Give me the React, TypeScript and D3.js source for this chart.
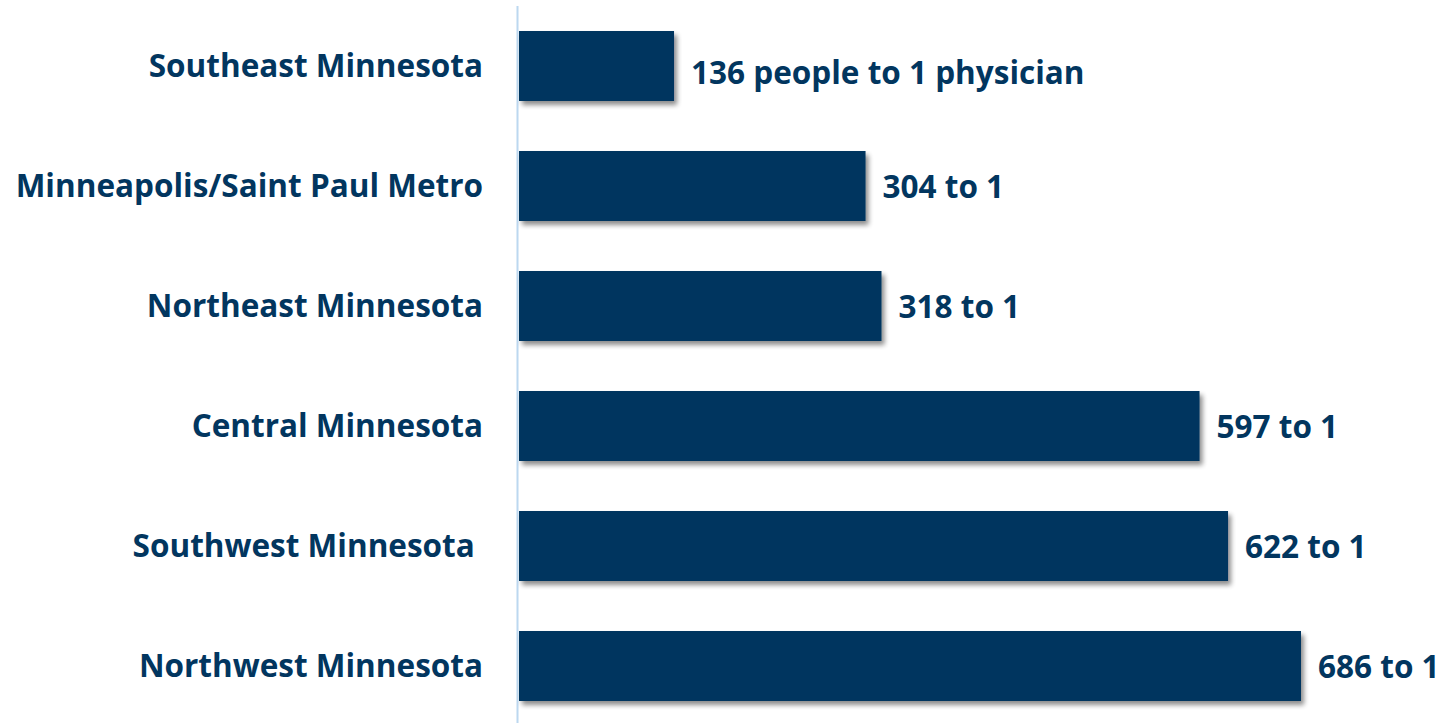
import React from "react";
import * as d3 from "d3";

const regions = [
  "Southeast Minnesota",
  "Minneapolis/Saint Paul Metro",
  "Northeast Minnesota",
  "Central Minnesota",
  "Southwest Minnesota ",
  "Northwest Minnesota",
];
const ratios = [136, 304, 318, 597, 622, 686];
const valueLabels = [
  "136 people to 1 physician",
  "304 to 1",
  "318 to 1",
  "597 to 1",
  "622 to 1",
  "686 to 1",
];

const W = 1446;
const H = 723;
const x0 = 519;
const navy = "#02365f";
const FS = 31.5;

export default function App() {
  const x = d3.scaleLinear().domain([0, 686]).range([x0, 1301]);
  const yb = d3
    .scaleBand()
    .domain(regions)
    .range([6, 726])
    .paddingInner(50 / 120)
    .paddingOuter(25 / 120);
  return (
    <svg width={W} height={H} style={{ position: "absolute", left: 0, top: 0 }}>
      <defs>
        <filter id="sh" x="-10%" y="-20%" width="130%" height="160%">
          <feGaussianBlur in="SourceAlpha" stdDeviation="2.5" />
          <feOffset dx="3" dy="4" result="b" />
          <feComponentTransfer>
            <feFuncA type="linear" slope="0.45" />
          </feComponentTransfer>
          <feMerge>
            <feMergeNode />
            <feMergeNode in="SourceGraphic" />
          </feMerge>
        </filter>
      </defs>
      <rect width={W} height={H} fill="#fff" />
      <line x1={517.5} x2={517.5} y1={6} y2={H} stroke="#bcd8f0" strokeWidth={2} />
      {regions.map((r, i) => (
        <g key={r}>
          <rect
            x={x(0)}
            y={yb(r)!}
            width={x(ratios[i]) - x(0)}
            height={yb.bandwidth()}
            fill={navy}
            filter="url(#sh)"
          />
          <text
            x={483}
            y={yb(r)! + yb.bandwidth() / 2}
            dy="0.35em"
            textAnchor="end"
            fontFamily="'Open Sans', sans-serif"
            fontWeight="bold"
            fontSize={FS}
            fill={navy}
            style={{ whiteSpace: "pre" }}
          >
            {r}
          </text>
          <text
            x={x(ratios[i]) + 17}
            y={yb(r)! + yb.bandwidth() / 2 + (i === 0 ? 7 : 1)}
            dy="0.35em"
            fontFamily="'Open Sans', sans-serif"
            fontWeight="bold"
            fontSize={FS}
            fill={navy}
          >
            {valueLabels[i]}
          </text>
        </g>
      ))}
    </svg>
  );
}
